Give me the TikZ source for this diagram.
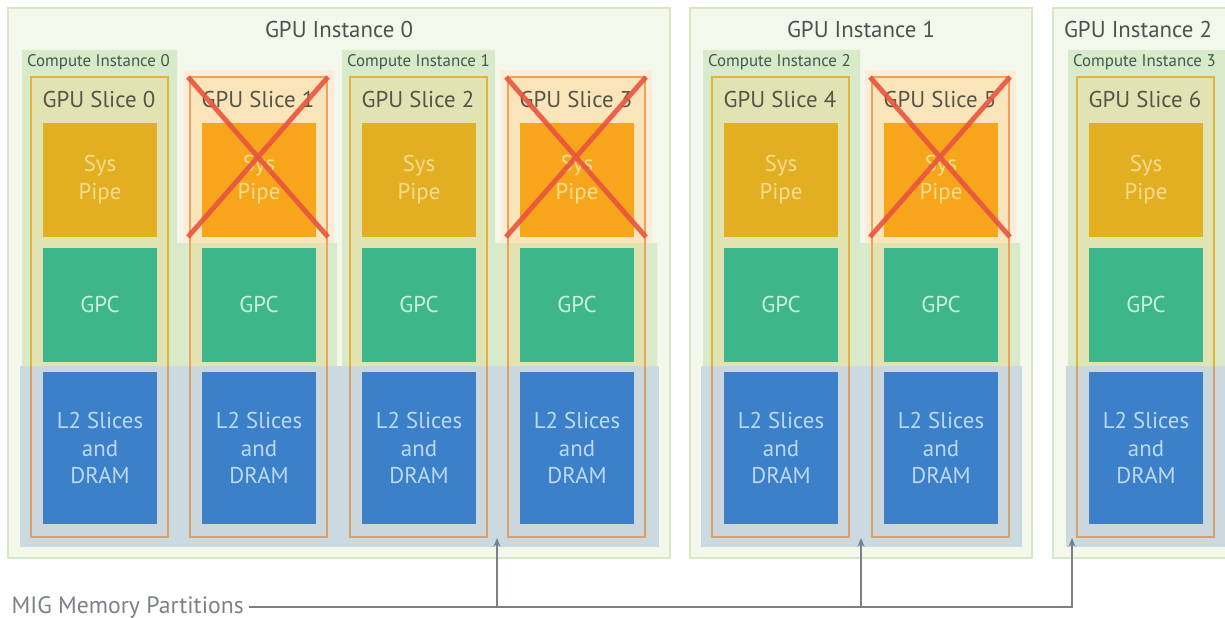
\documentclass[tikz,border=0pt]{standalone}
\usepackage{fontspec}
\setmainfont{PT Sans}
\usetikzlibrary{arrows.meta}
\definecolor{instfill}{HTML}{F3F7EC}
\definecolor{instline}{HTML}{D9E8C4}
\definecolor{cifill}{HTML}{D9EACB}
\definecolor{idlefill}{HTML}{FDECD8}
\definecolor{memfill}{HTML}{C4D4E0}
\definecolor{slicegold}{HTML}{E3B43C}
\definecolor{sliceorange}{HTML}{EFA25A}
\definecolor{slicetan}{HTML}{D9A06C}
\definecolor{sliceyellow}{HTML}{F5D67A}
\definecolor{pipegold}{HTML}{E2AE22}
\definecolor{pipeorange}{HTML}{F7A51B}
\definecolor{pipetext}{HTML}{F7DD8D}
\definecolor{gpcgreen}{HTML}{3DB68C}
\definecolor{gpctext}{HTML}{C9F2DD}
\definecolor{lblue}{HTML}{3B80C8}
\definecolor{ltext}{HTML}{BCDAF5}
\definecolor{crossred}{HTML}{E8553F}
\definecolor{titlegray}{HTML}{505050}
\definecolor{cigray}{HTML}{3F5A4A}
\definecolor{arrowgray}{HTML}{7B8189}

\begin{document}
\begin{tikzpicture}[x=0.02cm, y=-0.02cm,
  gpuinst/.style={fill=instfill, draw=instline, line width=0.9pt},
  ciarea/.style={fill=cifill},
  idlearea/.style={fill=idlefill},
  memband/.style={fill=memfill, opacity=0.85},
  sliceon/.style={draw=slicegold, fill=sliceyellow, fill opacity=0.3, line width=0.9pt},
  sliceoff/.style={draw=sliceorange, fill=sliceyellow, fill opacity=0.3, line width=0.9pt},
  slicelow/.style={draw=slicetan, line width=0.9pt},
  blockbox/.style={inner sep=0pt, minimum width=2.3cm, align=center, font=\fontsize{13}{15.8}\selectfont},
  pipeon/.style={blockbox, fill=pipegold, text=pipetext, minimum height=2.28cm},
  pipeoff/.style={blockbox, fill=pipeorange, text=pipetext, minimum height=2.28cm},
  gpcbox/.style={blockbox, fill=gpcgreen, text=gpctext, minimum height=2.28cm},
  lbox/.style={blockbox, fill=lblue, text=ltext, minimum height=3.06cm},
  xout/.style={draw=crossred, line width=2.8pt, opacity=0.9},
  insttitle/.style={text=titlegray, font=\fontsize{13}{15}\selectfont},
  slicetitle/.style={text=titlegray!90!olive, font=\fontsize{13}{15}\selectfont},
  cititle/.style={text=cigray, anchor=north west, inner sep=1pt, font=\fontsize{9.6}{11}\selectfont},
  migline/.style={draw=arrowgray, line width=1pt},
]
%%%%% START %%%%%
\useasboundingbox (0,0) rectangle (1225,618);
\clip (0,0) rectangle (1225,618);

% gpu instances
\draw[gpuinst] (8,8) rectangle (670,558);
\draw[gpuinst] (690,8) rectangle (1032,558);
\draw[gpuinst] (1053,8) rectangle (1240,558);
\node[insttitle] (gi0) at (339,30) {GPU Instance 0};
\node[insttitle] (gi1) at (861,30) {GPU Instance 1};
\node[insttitle] (gi2) at (1138,30) {GPU Instance 2};

% compute instances
\fill[ciarea] (22,50) -| (177,243) -| (337,366) -- (22,366) -- cycle;
\fill[ciarea] (342,50) -| (495,243) -| (657,366) -- (342,366) -- cycle;
\fill[ciarea] (703,50) -| (860,243) -| (1020,366) -- (703,366) -- cycle;
\fill[ciarea] (1068,50) rectangle (1240,366);
\node[cititle] (ci0) at (25,52) {Compute Instance 0};
\node[cititle] (ci1) at (345,52) {Compute Instance 1};
\node[cititle] (ci2) at (706,52) {Compute Instance 2};
\node[cititle] (ci3) at (1071,52) {Compute Instance 3};

% unused slices
\foreach \l in {190,508,872}
  \fill[idlearea] (\l-7,70) rectangle (\l+144,243);

% slices
\foreach \l/\n/\s in {31/0/on,190/1/off,350/2/on,508/3/off,712/4/on,872/5/off,1077/6/on}{
  \draw[slice\s] (\l,77) rectangle (\l+137,537);
  \node[slicetitle] (sl\n) at (\l+68,100) {GPU Slice \n};
}

% memory partitions
\fill[memband] (20,366) rectangle (659,547);
\fill[memband] (701,366) rectangle (1022,547);
\fill[memband] (1066,366) rectangle (1240,547);

\foreach \l/\n/\s in {31/0/on,190/1/off,350/2/on,508/3/off,712/4/on,872/5/off,1077/6/on}{
  \draw[slicelow] (\l,366) |- (\l+137,537) -- (\l+137,366);
  \node[pipe\s] (sp\n) at (\l+69,180) {Sys\\Pipe};
  \node[gpcbox] (gpc\n) at (\l+69,305) {GPC};
  \node[lbox] (l2\n) at (\l+69,448) {L2 Slices\\and\\DRAM};
}

% crossed out sys pipes
\foreach \l in {190,508,872}{
  \draw[xout] (\l-2,77) -- (\l+138,237);
  \draw[xout] (\l-2,237) -- (\l+138,77);
}

% memory partitions label
\node[text=arrowgray, anchor=west, inner sep=3pt, font=\fontsize{13.5}{15}\selectfont] (mig) at (6,607) {MIG Memory Partitions};
\coordinate (mp0) at (497,538);
\coordinate (mp1) at (861,538);
\coordinate (mp2) at (1072,538);
\draw[migline, -{Stealth[length=5pt,width=4pt]}] (mig.east) -| (mp2);
\draw[migline, -{Stealth[length=5pt,width=4pt]}] (mp0 |- mig.east) -- (mp0);
\draw[migline, -{Stealth[length=5pt,width=4pt]}] (mp1 |- mig.east) -- (mp1);
%%%%% END %%%%%
\end{tikzpicture}
\end{document}
